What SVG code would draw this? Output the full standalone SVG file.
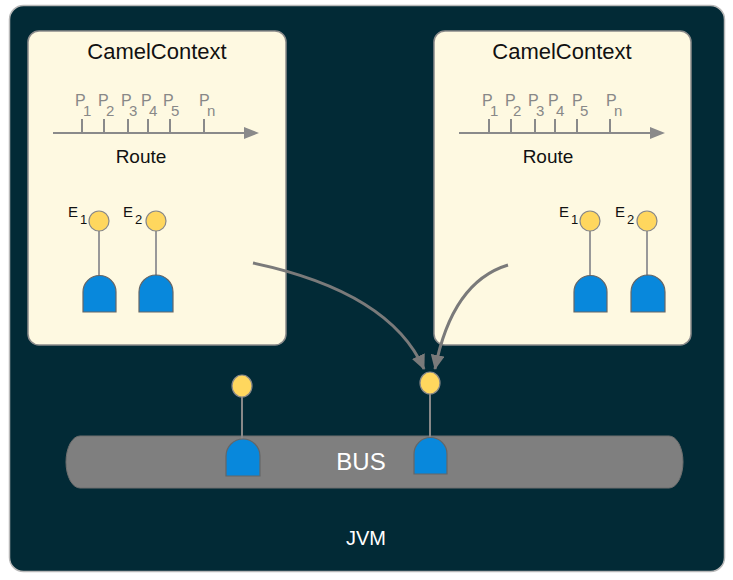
<svg xmlns="http://www.w3.org/2000/svg" width="733" height="580" viewBox="0 0 733 580">
<defs>
<marker id="ah" markerUnits="userSpaceOnUse" markerWidth="16" markerHeight="14" refX="14" refY="7" orient="auto">
<path d="M0,0 L15,7 L0,14 Z" fill="#7a7a7a"/>
</marker>
<style>
.ctx{fill:#fef9e1;stroke:#8a8a8a;stroke-width:1.5}
.t{font-family:"Liberation Sans",Arial,sans-serif}
.title{font-size:22px;fill:#111;text-anchor:middle}
.route{font-size:19px;fill:#111;text-anchor:middle}
.p{font-size:16px;fill:#888}
.ps{font-size:15px;fill:#888}
.e{font-size:15px;fill:#111}
.es{font-size:13px;fill:#111}
.rl{stroke:#8a8a8a;stroke-width:2;fill:none}
.stem{stroke:#999;stroke-width:2}
.dot{fill:#ffd75e;stroke:#888;stroke-width:1.2}
.dome{fill:#0888dc;stroke:#666;stroke-width:1.2}
.conn{stroke:#7a7a7a;stroke-width:3;fill:none}
</style>
</defs>
<rect x="9.5" y="5.5" width="715" height="566" rx="14" fill="#022a36" stroke="#b8b8b8" stroke-width="1.5"/>
<g id="jvm-label"><text class="t" x="366" y="545" font-size="20" fill="#fff" text-anchor="middle">JVM</text></g>

<g id="ctx-left">
<rect class="ctx" x="28" y="31" width="258" height="314" rx="11"/>
<text class="t title" x="157" y="59">CamelContext</text>
<line class="rl" x1="53" y1="133" x2="246" y2="133"/>
<path d="M244,127 L259,133 L244,139 Z" fill="#8a8a8a"/>
<g class="rl"><line x1="82" y1="119" x2="82" y2="133"/><line x1="104" y1="119" x2="104" y2="133"/><line x1="128" y1="119" x2="128" y2="133"/><line x1="148" y1="119" x2="148" y2="133"/><line x1="170" y1="119" x2="170" y2="133"/><line x1="204" y1="119" x2="204" y2="133"/></g>
<g class="t">
<text class="p" x="75" y="106">P</text><text class="ps" x="83" y="116">1</text>
<text class="p" x="98" y="106">P</text><text class="ps" x="106" y="116">2</text>
<text class="p" x="121" y="106">P</text><text class="ps" x="129" y="116">3</text>
<text class="p" x="141" y="106">P</text><text class="ps" x="149" y="116">4</text>
<text class="p" x="163" y="106">P</text><text class="ps" x="171" y="116">5</text>
<text class="p" x="199" y="106">P</text><text class="ps" x="207" y="116">n</text>
</g>
<text class="t route" x="141" y="163">Route</text>
</g>

<g id="ep-left-1">
<line class="stem" x1="99" y1="231" x2="99" y2="276"/>
<circle class="dot" cx="99" cy="221" r="10"/>
<path class="dome" d="M83,312 L83,292 A16.5,16.5 0 0 1 116,292 L116,312 Z"/>
<text class="t e" x="68" y="217">E</text><text class="t es" x="80" y="224">1</text>
</g>
<g id="ep-left-2">
<line class="stem" x1="156" y1="231" x2="156" y2="276"/>
<circle class="dot" cx="156" cy="221" r="10"/>
<path class="dome" d="M139,312 L139,292 A17,17 0 0 1 173,292 L173,312 Z"/>
<text class="t e" x="123" y="217">E</text><text class="t es" x="135" y="224">2</text>
</g>

<g id="ctx-right">
<rect class="ctx" x="434" y="31" width="257" height="314" rx="11"/>
<text class="t title" x="562" y="59">CamelContext</text>
<line class="rl" x1="459" y1="133" x2="652" y2="133"/>
<path d="M650,127 L665,133 L650,139 Z" fill="#8a8a8a"/>
<g class="rl"><line x1="489" y1="119" x2="489" y2="133"/><line x1="511" y1="119" x2="511" y2="133"/><line x1="535" y1="119" x2="535" y2="133"/><line x1="555" y1="119" x2="555" y2="133"/><line x1="577" y1="119" x2="577" y2="133"/><line x1="610" y1="119" x2="610" y2="133"/></g>
<g class="t">
<text class="p" x="482" y="106">P</text><text class="ps" x="490" y="116">1</text>
<text class="p" x="505" y="106">P</text><text class="ps" x="513" y="116">2</text>
<text class="p" x="528" y="106">P</text><text class="ps" x="536" y="116">3</text>
<text class="p" x="548" y="106">P</text><text class="ps" x="556" y="116">4</text>
<text class="p" x="572" y="106">P</text><text class="ps" x="580" y="116">5</text>
<text class="p" x="606" y="106">P</text><text class="ps" x="614" y="116">n</text>
</g>
<text class="t route" x="548" y="163">Route</text>
</g>

<g id="ep-right-1">
<line class="stem" x1="590" y1="231" x2="590" y2="276"/>
<circle class="dot" cx="590" cy="221" r="10"/>
<path class="dome" d="M574,312 L574,292 A16.5,16.5 0 0 1 607,292 L607,312 Z"/>
<text class="t e" x="559" y="217">E</text><text class="t es" x="571" y="224">1</text>
</g>
<g id="ep-right-2">
<line class="stem" x1="647" y1="231" x2="647" y2="276"/>
<circle class="dot" cx="647" cy="221" r="10"/>
<path class="dome" d="M631,312 L631,292 A17,17 0 0 1 665,292 L665,312 Z"/>
<text class="t e" x="615" y="217">E</text><text class="t es" x="627" y="224">2</text>
</g>

<g id="bus">
<rect x="66" y="436" width="617" height="52" rx="14" ry="26" fill="#7f7f7f" stroke="#6e6e6e" stroke-width="1"/>
<text class="t" x="361" y="470" font-size="24" fill="#fff" text-anchor="middle">BUS</text>
</g>
<g id="bus-ep-1">
<line class="stem" x1="242" y1="395" x2="242" y2="440" style="stroke:#888"/>
<ellipse class="dot" cx="242" cy="386" rx="10" ry="11"/>
<path class="dome" d="M226,476 L226,456 A17,17 0 0 1 260,456 L260,476 Z"/>
</g>
<g id="bus-ep-2">
<line class="stem" x1="430" y1="393" x2="430" y2="438" style="stroke:#888"/>
<ellipse class="dot" cx="430" cy="383" rx="10" ry="11"/>
<path class="dome" d="M414,474 L414,454 A16.5,16.5 0 0 1 447,454 L447,474 Z"/>
</g>

<g id="connectors">
<path class="conn" d="M253,263 Q390,292 424,369" marker-end="url(#ah)"/>
<path class="conn" d="M508,265 Q452,282 435,369" marker-end="url(#ah)"/>
</g>
</svg>
